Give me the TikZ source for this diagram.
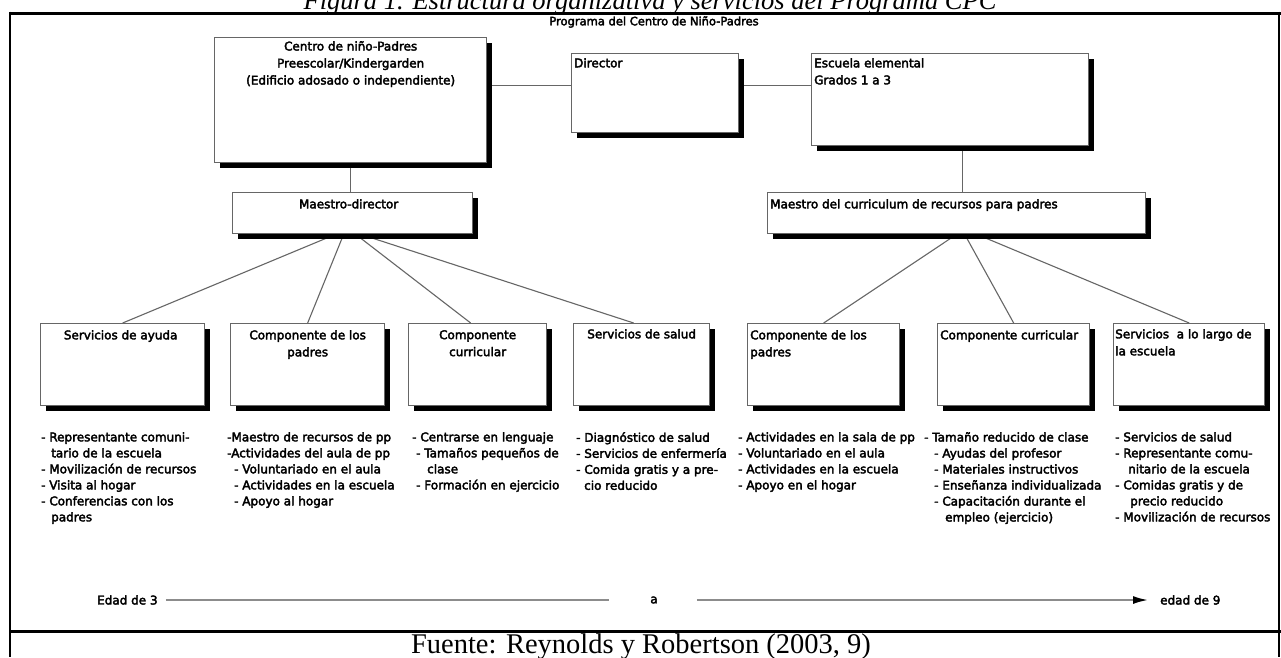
\documentclass[tikz,border=0pt]{standalone}
\usepackage{fontspec}
\setmainfont{DejaVu Sans}[FakeBold=3]
\newfontfamily\serifrm{Liberation Serif}
\usetikzlibrary{shadows,arrows.meta,calc}
\pgfdeclarelayer{bg}
\pgfsetlayers{bg,main}
\newcommand\ind[1]{\hspace*{#1pt}}
\tikzset{
  box/.style={draw=black!60, line width=1.3pt, fill=white, inner sep=0pt, anchor=north west,
    drop shadow={shadow xshift=5pt, shadow yshift=-5pt, opacity=1, fill=black}},
  txt/.style={inner sep=0pt, font=\fontsize{12}{16}\selectfont, align=left},
  ctxt/.style={inner sep=0pt, font=\fontsize{12}{17}\selectfont, align=center},
  conn/.style={draw=black!60, line width=1.1pt},
  axisline/.style={draw=black!45, line width=1.8pt},
  frameline/.style={line width=3pt, draw=black},
}
\begin{document}
\begin{tikzpicture}[x=1pt,y=-1pt]
\useasboundingbox (0,0) rectangle (1281,657);
\begin{pgfonlayer}{bg}
\fill[white] (0,0) rectangle (1281,657);
\end{pgfonlayer}

% title, frame, source
\node[anchor=base, inner sep=0pt, font=\serifrm\itshape\fontsize{26.5}{26.5}\selectfont] (title) at (650,9) {Figura 1. Estructura organizativa y servicios del Programa CPC};
\draw[frameline] (10,13) -- (1281,13);
\draw[line width=2.5pt] (10,11.5) -- (10,657);
\draw[line width=2.5pt] (1279,11.5) -- (1279,657);
\draw[frameline] (10,631) -- (1281,631);
\node[anchor=base, inner sep=0pt, font=\serifrm\fontsize{28.5}{28.5}\selectfont] (src) at (641,653) {Fuente: Reynolds y Robertson (2003, 9)};

\node[inner sep=0pt, font=\fontsize{11.5}{14}\selectfont] (prog) at (654,22) {Programa del Centro de Niño-Padres};

% boxes
\node[box, minimum width=272pt, minimum height=125pt] (cn) at (214,37) {};
\node[box, minimum width=167pt, minimum height=79pt] (dir) at (571,53) {};
\node[box, minimum width=277pt, minimum height=92pt] (esc) at (811,53) {};
\node[box, minimum width=240pt, minimum height=41pt] (md) at (232,192) {};
\node[box, minimum width=378pt, minimum height=41pt] (mc) at (767,192) {};
\node[box, minimum width=164pt, minimum height=82pt] (sa) at (40,323) {};
\node[box, minimum width=154pt, minimum height=82pt] (cp) at (230,323) {};
\node[box, minimum width=138pt, minimum height=82pt] (cc) at (408,323) {};
\node[box, minimum width=136pt, minimum height=82pt] (ss) at (573,323) {};
\node[box, minimum width=152pt, minimum height=82pt] (cpr) at (747,323) {};
\node[box, minimum width=152pt, minimum height=82pt] (ccr) at (937,323) {};
\node[box, minimum width=151pt, minimum height=82pt] (sl) at (1113,323) {};

% box texts
\node[ctxt, anchor=north] (cnt) at ($(cn.north)+(0,4)$) {Centro de niño-Padres\\Preescolar/Kindergarden\\(Edificio adosado o independiente)};
\node[txt, anchor=north west] (dirt) at ($(dir.north west)+(3,5)$) {Director};
\node[txt, anchor=north west, font=\fontsize{12}{17}\selectfont] (esct) at ($(esc.north west)+(3,5)$) {Escuela elemental\\Grados 1 a 3};
\node[ctxt, anchor=north] (mdt) at ($(md.north)+(-4,7)$) {Maestro-director};
\node[txt, anchor=north west] (mct) at ($(mc.north west)+(3,7)$) {Maestro del curriculum de recursos para padres};
\node[ctxt, anchor=north] (sat) at ($(sa.north)+(-2,7)$) {Servicios de ayuda};
\node[ctxt, anchor=north] (cpt) at ($(cp.north)+(0,7)$) {Componente de los\\padres};
\node[ctxt, anchor=north] (cct) at ($(cc.north)+(0,7)$) {Componente\\curricular};
\node[ctxt, anchor=north] (sst) at ($(ss.north)+(0,6)$) {Servicios de salud};
\node[txt, anchor=north west, font=\fontsize{12}{17}\selectfont] (cprt) at ($(cpr.north west)+(3,7)$) {Componente de los\\padres};
\node[txt, anchor=north west] (ccrt) at ($(ccr.north west)+(3,7)$) {Componente curricular};
\node[txt, anchor=north west, font=\fontsize{12}{17}\selectfont] (slt) at ($(sl.north west)+(2,6)$) {Servicios\ \ a lo largo de\\la escuela};

% connectors
\coordinate (dirL) at ($(dir.north west)!0.41!(dir.south west)$);
\coordinate (escB) at ($(esc.south west)!0.545!(esc.south east)$);
\begin{pgfonlayer}{bg}
\draw[conn] (cn.east |- dirL) -- (dirL);
\draw[conn] (dir.east |- dirL) -- (esc.west |- dirL);
\draw[conn] (cn.south) -- (cn.south |- md.north);
\draw[conn] (escB) -- (escB |- mc.north);
\draw[conn] ($(md.south)+(-17,0)$) -- (sa.north);
\draw[conn] ($(md.south)+(-9,0)$) -- (cp.north);
\draw[conn] ($(md.south)+(3,0)$) -- ($(cc.north)+(-7,0)$);
\draw[conn] ($(md.south)+(8,0)$) -- ($(ss.north)+(-8,0)$);
\draw[conn] (mc.south) -- (cpr.north);
\draw[conn] ($(mc.south)+(8,0)$) -- (ccr.north);
\draw[conn] ($(mc.south)+(20,0)$) -- (sl.north);
\end{pgfonlayer}

% lists
\node[txt, anchor=north west] (l1) at (41,432) {- Representante comuni-\\\ind{10}tario de la escuela\\- Movilización de recursos\\- Visita al hogar\\- Conferencias con los\\\ind{10}padres};
\node[txt, anchor=north west] (l2) at (227,432) {-Maestro de recursos de pp\\-Actividades del aula de pp\\\ind{7}- Voluntariado en el aula\\\ind{7}- Actividades en la escuela\\\ind{7}- Apoyo al hogar};
\node[txt, anchor=north west] (l3) at (412,432) {- Centrarse en lenguaje\\\ind{4}- Tamaños pequeños de\\\ind{15}clase\\\ind{4}- Formación en ejercicio};
\node[txt, anchor=north west] (l4) at (576,432) {- Diagnóstico de salud\\- Servicios de enfermería\\- Comida gratis y a pre-\\\ind{8}cio reducido};
\node[txt, anchor=north west] (l5) at (738,432) {- Actividades en la sala de pp\\- Voluntariado en el aula\\- Actividades en la escuela\\- Apoyo en el hogar};
\node[txt, anchor=north west] (l6) at (924,432) {- Tamaño reducido de clase\\\ind{10}- Ayudas del profesor\\\ind{10}- Materiales instructivos\\\ind{10}- Enseñanza individualizada\\\ind{10}- Capacitación durante el\\\ind{21}empleo (ejercicio)};
\node[txt, anchor=north west] (l7) at (1115,432) {- Servicios de salud\\- Representante comu-\\\ind{13}nitario de la escuela\\- Comidas gratis y de\\\ind{15}precio reducido\\- Movilización de recursos};

% age axis
\node[txt, anchor=west] (e3) at (97,600) {Edad de 3};
\node[txt] (aa) at (654,600) {a};
\node[txt, anchor=west] (e9) at (1160,600) {edad de 9};
\draw[axisline] ($(e3.east)+(8,0)$) -- ($(aa.west)+(-41,0)$);
\draw[axisline, -{Latex[length=15pt,width=8pt,color=black]}] ($(aa.east)+(39,0)$) -- ($(e9.west)+(-12,0)$);
\end{tikzpicture}
\end{document}
